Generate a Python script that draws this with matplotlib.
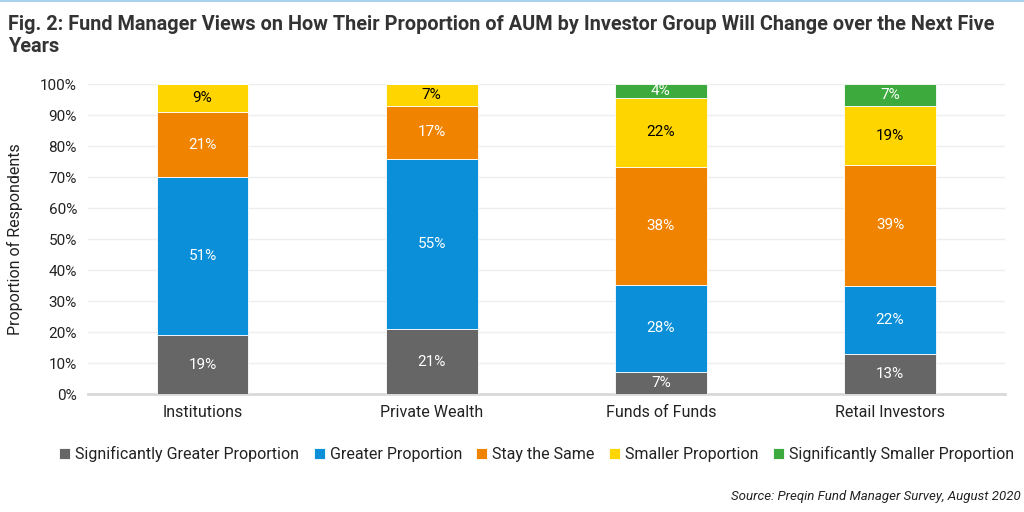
import matplotlib
matplotlib.use("Agg")
import matplotlib.pyplot as plt
import numpy as np

plt.rcParams['font.family'] = ['Roboto', 'DejaVu Sans']

categories = ["Institutions", "Private Wealth", "Funds of Funds", "Retail Investors"]
series_names = ["Significantly Greater Proportion", "Greater Proportion", "Stay the Same",
                "Smaller Proportion", "Significantly Smaller Proportion"]
sig_greater = [19, 21, 7.2, 13]
greater = [51, 55, 28.2, 22]
same = [21, 17, 37.9, 39]
smaller = [9, 7, 22.4, 19]
sig_smaller = [0, 0, 4.3, 7]
colors = ["#666666", "#0a8fd8", "#f08300", "#ffd500", "#3caa3c"]
text_colors = ["white", "white", "white", "black", "white"]
yticks = [0, 10, 20, 30, 40, 50, 60, 70, 80, 90, 100]

fig = plt.figure(figsize=(10.24, 5.12), dpi=100)
ax = fig.add_axes([0.086, 0.23, 0.895, 0.605])

x = np.arange(len(categories))
bottom = np.zeros(len(categories))
handles = []
for vals, c, tc, name in zip([sig_greater, greater, same, smaller, sig_smaller], colors, text_colors, series_names):
    vals = np.array(vals, dtype=float)
    b = ax.bar(x, vals, 0.4, bottom=bottom, color=c, edgecolor="white", linewidth=0.6, label=name, zorder=3)
    handles.append(b)
    for xi, v, bt in zip(x, vals, bottom):
        if v > 0:
            ax.text(xi, bt + v / 2, f"{round(v)}%", ha="center", va="center", color=tc, fontsize=11, zorder=4)
    bottom += vals

ax.set_xlim(-0.5, 3.5)
ax.set_ylim(0, 100)
ax.set_yticks(yticks)
ax.set_yticklabels([f"{t}%" for t in yticks], fontsize=11, color="#222222")
ax.set_xticks(x)
ax.set_xticklabels(categories, fontsize=11.5, color="#222222")
ax.tick_params(axis="both", length=0, pad=8)
ax.grid(axis="y", color="#eeeeee", linewidth=1, zorder=0)
for s in ["top", "right", "left"]:
    ax.spines[s].set_visible(False)
ax.spines["bottom"].set_color("#d9d9d9")
ax.spines["bottom"].set_linewidth(2)
ax.set_ylabel("Proportion of Respondents", fontsize=11.5, color="#222222", labelpad=12)

fig.text(0.008, 0.97, "Fig. 2: Fund Manager Views on How Their Proportion of AUM by Investor Group Will Change over the Next Five\nYears",
         ha="left", va="top", fontsize=14.3, fontweight="bold", color="#333333", linespacing=1.2)
fig.add_artist(plt.Line2D([0, 1], [0.998, 0.998], color="#a8d2ee", linewidth=1.5, transform=fig.transFigure))

leg = fig.legend(handles=handles, loc="center", bbox_to_anchor=(0.524, 0.113), ncol=5, frameon=False,
                 fontsize=11.5, handlelength=0.7, handleheight=0.7, handletextpad=0.3, columnspacing=0.9)
for t in leg.get_texts():
    t.set_color("#222222")

fig.text(0.997, 0.03, "Source: Preqin Fund Manager Survey, August 2020", ha="right", va="center",
         fontsize=9.5, style="italic", color="#222222")

fig.savefig("out.png", dpi=100)
